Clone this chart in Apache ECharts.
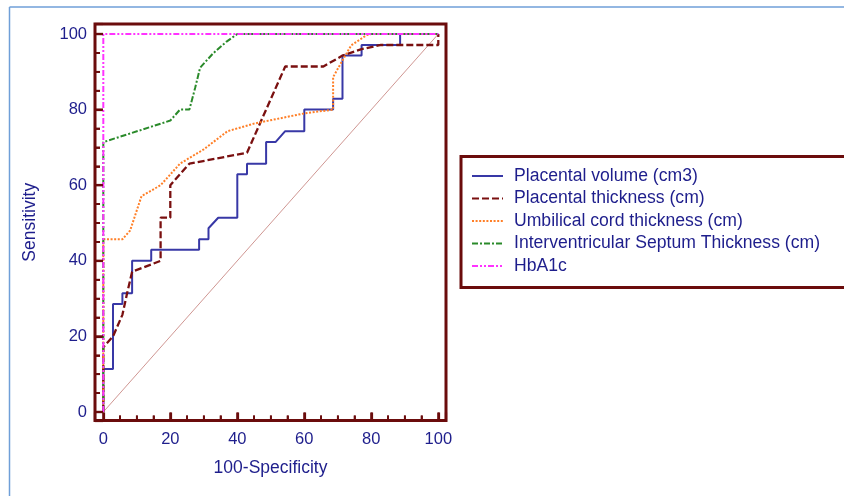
<!DOCTYPE html>
<html>
<head>
<meta charset="utf-8">
<script src="https://cdn.jsdelivr.net/npm/echarts@6/dist/echarts.min.js"></script>
<style>
html,body{margin:0;padding:0;background:#fff;}
#chart{width:844px;height:496px;}
</style>
</head>
<body>
<div id="chart"></div>
<script>
// ---- data ----
const seriesNames = [
  'Placental volume (cm3)',
  'Placental thickness (cm)',
  'Umbilical cord thickness (cm)',
  'Interventricular Septum Thickness (cm)',
  'HbA1c'
];
const xTicks = [0, 20, 40, 60, 80, 100];
const yTicks = [0, 20, 40, 60, 80, 100];
const tickMarks = [0,5,10,15,20,25,30,35,40,45,50,55,60,65,70,75,80,85,90,95,100];

const volX = [0,0,2.9,2.9,5.7,5.7,8.6,8.6,14.3,14.3,28.6,28.6,31.4,31.4,34.3,40,40,42.9,42.9,48.6,48.6,51.4,54.3,60,60,68.6,68.6,71.4,71.4,77.1,77.1,88.6,88.6,100];
const volY = [0,11.4,11.4,28.6,28.6,31.4,31.4,40,40,42.9,42.9,45.7,45.7,48.6,51.4,51.4,62.9,62.9,65.7,65.7,71.4,71.4,74.3,74.3,80,80,82.9,82.9,94.3,94.3,97.1,97.1,100,100];

const thickX = [0,0,2.9,5.7,7.1,8.6,17.1,17.1,20,20,25.7,42.9,54.3,65.7,71.4,77.1,82.9,100,100];
const thickY = [0,17.1,20,25.7,31.4,37.1,40,51.4,51.4,60,65.7,68.6,91.4,91.4,94.3,96,97.1,97.1,100];

const cordX = [0,0,5.7,8,11.4,17.1,22.9,30,37.1,45,60,68.6,68.6,71.4,74,78.6,80,100];
const cordY = [0,45.7,45.7,48,57.1,60,65.7,69.5,74.3,76.3,79,80,88.6,93,97,99.7,100,100];

const septX = [0,0,20,22.9,25.7,27.4,28.9,32.8,36.8,40,100];
const septY = [0,71.4,77.1,80,80,85.7,91.1,94.9,98,100,100];

const hbX = [0,0,100];
const hbY = [0,100,100];

const refX = [0,100];
const refY = [0,100];

// ---- build ----
function pairs(xs, ys){ return xs.map((x,i)=>[x, ys[i]]); }

const navy = '#1e1e8c';
const frame = '#6b0c0c';
const font = "'Liberation Sans', Arial, sans-serif";

// axis extents: the frame sits a little outside the 0..100 data range
const xMin = -2.48, xMax = 102.3;
const yMin = -2.25, yMax = 102.65;

const chart = echarts.init(document.getElementById('chart'), null, {renderer:'canvas'});

function lineSeries(name, xs, ys, color, width, dash, z){
  return {
    name: name, type: 'line', data: pairs(xs, ys),
    xAxisIndex: 0, yAxisIndex: 0,
    symbol: 'none', showSymbol: false, smooth: false, z: z,
    lineStyle: {color: color, width: width, type: dash, cap: 'butt'},
    itemStyle: {color: color},
    emphasis: {disabled: true}, animation: false
  };
}

// tick marks placed through the axis scales (inward from the frame)
function tickSeries(horizontal){
  return {
    type: 'custom', silent: true, z: 20, clip: false, animation: false,
    xAxisIndex: 0, yAxisIndex: 0,
    data: tickMarks.map(v => horizontal ? [v, yMin] : [xMin, v]),
    encode: {x: 0, y: 1},
    renderItem: function(params, api){
      const vx = api.value(0), vy = api.value(1);
      const v = horizontal ? vx : vy;
      const major = v % 20 === 0;
      const len = major ? 8 : 5;
      const p = api.coord([vx, vy]);
      const shape = horizontal
        ? {x1: p[0], y1: p[1], x2: p[0], y2: p[1] - len}
        : {x1: p[0], y1: p[1], x2: p[0] + len, y2: p[1]};
      return {type: 'line', z2: 100, shape: shape, style: {stroke: frame, lineWidth: major ? 2.2 : 1.8}};
    }
  };
}

// minor ticks axis (step 5, blank labels)
function minorAxis(pos, min, max){
  return {
    type: 'value', position: pos, min: min, max: max,
    splitNumber: 21, minInterval: 5, maxInterval: 5,
    axisLine: {show: false, onZero: false},
    axisTick: {show: true, inside: true, length: 5, lineStyle: {color: frame, width: 1.8}},
    axisLabel: {show: true, formatter: function(){ return ''; }},
    splitLine: {show: false}
  };
}
// major ticks axis (step 20) with labels and name
function majorAxis(pos, min, max, ticks, margin, name, gap, rotate){
  return {
    type: 'value', position: pos, min: min, max: max,
    splitNumber: 5, minInterval: 20, maxInterval: 20,
    name: name, nameLocation: 'middle', nameGap: gap, nameRotate: rotate,
    nameTextStyle: {color: navy, fontSize: 17.5, fontFamily: font},
    axisLine: {show: false, onZero: false},
    axisTick: {show: true, inside: true, length: 8, lineStyle: {color: frame, width: 2.2}},
    axisLabel: {show: true, color: navy, fontSize: 16.5, fontFamily: font, margin: margin, customValues: ticks},
    splitLine: {show: false}
  };
}

const option = {
  animation: false,
  backgroundColor: '#ffffff',
  grid: {left: 95, right: 844 - 446, top: 24, bottom: 496 - 420.5},
  xAxis: [
    minorAxis('bottom', xMin, xMax),
    majorAxis('bottom', xMin, xMax, xTicks, 10, '100-Specificity', 39, 0)
  ],
  yAxis: [
    minorAxis('left', yMin, yMax),
    majorAxis('left', yMin, yMax, yTicks, 8, 'Sensitivity', 56, 90)
  ],
  legend: {
    show: true, orient: 'vertical', left: 471, top: 167, padding: 0,
    itemWidth: 31, itemHeight: 14, itemGap: 4.5,
    data: seriesNames.map(n => ({name: n, itemStyle: {opacity: 0}})),
    textStyle: {color: navy, fontSize: 17.6, fontFamily: font, padding: [0,0,0,6]},
    selectedMode: false
  },
  graphic: [
    {type: 'line', z: -5, shape: {x1: 9.5, y1: 7, x2: 844, y2: 7}, style: {stroke: '#6f9fd8', lineWidth: 1.5}, silent: true},
    {type: 'line', z: -5, shape: {x1: 9.5, y1: 7, x2: 9.5, y2: 496}, style: {stroke: '#6f9fd8', lineWidth: 1.5}, silent: true},
    {type: 'rect', z: -5, shape: {x: 95, y: 24, width: 351, height: 396.5}, style: {fill: null, stroke: frame, lineWidth: 3}, silent: true},
    {type: 'polyline', z: -5, shape: {points: [[861, 156.5], [461, 156.5], [461, 287.5], [861, 287.5]]}, style: {fill: null, stroke: frame, lineWidth: 3}, silent: true}
  ],
  series: [
    lineSeries('reference', refX, refY, '#c98a86', 0.9, 'solid', 1),
    lineSeries(seriesNames[0], volX, volY, '#3838a6', 2, 'solid', 3),
    lineSeries(seriesNames[1], thickX, thickY, '#7a1010', 2.3, [7,3], 4),
    lineSeries(seriesNames[2], cordX, cordY, '#ff7f27', 2, [2,1.6], 5),
    lineSeries(seriesNames[3], septX, septY, '#2a8a2a', 2, [6,2,2,2], 6),
    lineSeries(seriesNames[4], hbX, hbY, '#ff33ff', 2, [6,2,2,2,2,2], 7),
    tickSeries(true),
    tickSeries(false)
  ]
};
chart.setOption(option);
</script>
</body>
</html>
